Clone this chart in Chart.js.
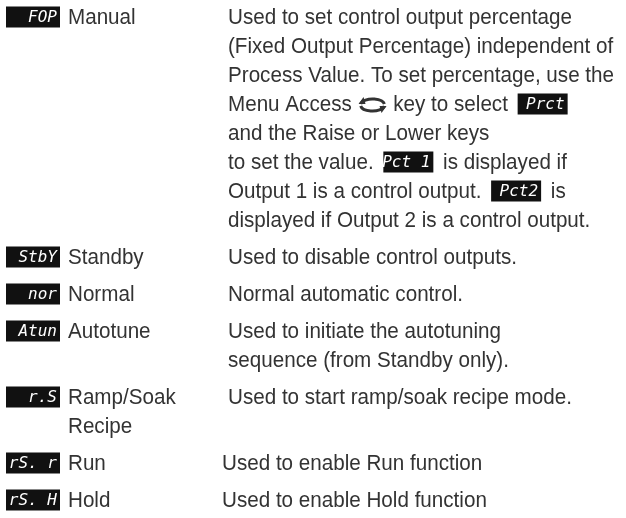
<!DOCTYPE html>
<html>
<head>
<meta charset="utf-8">
<script src="https://cdn.jsdelivr.net/npm/chart.js@4.4.1/dist/chart.umd.min.js"></script>
<style>
  html, body { margin: 0; padding: 0; background: #ffffff; }
  #wrap { width: 626px; height: 518px; }
</style>
</head>
<body>
<div id="wrap"><canvas id="modeChart" width="626" height="518"></canvas></div>
<script>
// Display codes, mode names and descriptions, one entry per mode
const codes = ['FOP', 'StbY', 'nor', 'Atun', 'r.S', 'rS. r', 'rS. H'];
const names = [['Manual'], ['Standby'], ['Normal'], ['Autotune'], ['Ramp/Soak', 'Recipe'], ['Run'], ['Hold']];
// {key} = Menu Access key icon, [xxx] = inline display code
const descriptions = [
  [
    'Used to set control output percentage',
    '(Fixed Output Percentage) independent of',
    'Process Value. To set percentage, use the',
    'Menu Access {key} key to select [Prct]',
    'and the Raise or Lower keys',
    'to set the value. [Pct 1] is displayed if',
    'Output 1 is a control output. [Pct2] is',
    'displayed if Output 2 is a control output.'
  ],
  ['Used to disable control outputs.'],
  ['Normal automatic control.'],
  ['Used to initiate the autotuning', 'sequence (from Standby only).'],
  ['Used to start ramp/soak recipe mode.'],
  ['Used to enable Run function'],
  ['Used to enable Hold function']
];

const textColor = '#333333';
const textFont = '22px "Liberation Sans", Arial, sans-serif';
const codeFont = 'italic 16px "DejaVu Sans Mono", monospace';
const lineStep = 29;
const entryStep = 37;
let squeeze = 0.85;

// y value (in scale units) for every line of every entry
function lineRows() {
  const rows = [];
  let y = 17;
  descriptions.forEach((desc, i) => {
    const n = Math.max(desc.length, names[i].length);
    const r = [];
    for (let k = 0; k < n; k++) r.push(y + k * lineStep);
    rows.push(r);
    y += (n - 1) * lineStep + entryStep;
  });
  return rows;
}

// condensed text: draw with a horizontal squeeze, return drawn width
function drawText(ctx, text, x, cy) {
  ctx.save();
  ctx.font = textFont;
  ctx.fillStyle = textColor;
  ctx.textBaseline = 'middle';
  ctx.textAlign = 'left';
  ctx.translate(x, cy + 1);
  ctx.scale(squeeze, 1);
  ctx.fillText(text, 0, 0);
  const w = ctx.measureText(text).width * squeeze;
  ctx.restore();
  return w;
}

function drawCode(ctx, text, right, cy, w) {
  const h = 21;
  ctx.save();
  ctx.fillStyle = '#111111';
  ctx.fillRect(right - w, cy - h / 2, w, h);
  ctx.fillStyle = '#ffffff';
  ctx.font = codeFont;
  ctx.textAlign = 'right';
  ctx.textBaseline = 'middle';
  ctx.fillText(text, right - 3, cy + 1);
  ctx.restore();
}

function drawKey(ctx, x, cy) {
  // oval loop with two arrow heads
  ctx.save();
  ctx.strokeStyle = textColor;
  ctx.fillStyle = textColor;
  ctx.lineWidth = 3;
  ctx.beginPath();
  ctx.ellipse(x + 13, cy + 1, 12, 6, 0, Math.PI * 1.05, Math.PI * 1.95);
  ctx.stroke();
  ctx.beginPath();
  ctx.ellipse(x + 13, cy + 1, 12, 6, 0, Math.PI * 0.05, Math.PI * 0.95);
  ctx.stroke();
  ctx.beginPath();
  ctx.moveTo(x + 20, cy + 2); ctx.lineTo(x + 27, cy + 2); ctx.lineTo(x + 22, cy + 9);
  ctx.fill();
  ctx.beginPath();
  ctx.moveTo(x - 1, cy); ctx.lineTo(x + 6, cy); ctx.lineTo(x + 4, cy - 7);
  ctx.fill();
  ctx.restore();
}

function drawRich(ctx, line, x, cy) {
  const parts = line.split(/(\{key\}|\[[^\]]+\])/);
  parts.forEach(p => {
    if (!p) return;
    if (p === '{key}') {
      drawKey(ctx, x + 2, cy);
      x += 30;
    } else if (p[0] === '[') {
      drawCode(ctx, p.slice(1, -1), x + 54, cy, 50);
      x += 58;
    } else {
      x += drawText(ctx, p, x, cy);
    }
  });
}

const textPlugin = {
  id: 'modeText',
  afterDraw(chart) {
    const { ctx, scales } = chart;
    const rows = lineRows();
    // fit the third description line to the width it has in the source
    ctx.font = textFont;
    squeeze = 386 / ctx.measureText(descriptions[0][2]).width;
    codes.forEach((code, i) => {
      const cy = scales.y.getPixelForValue(rows[i][0]);
      drawCode(ctx, code, scales.x.getPixelForValue(60), cy, 54);
      names[i].forEach((nm, k) => {
        drawText(ctx, nm, scales.x.getPixelForValue(68), scales.y.getPixelForValue(rows[i][k]));
      });
      const dx = i >= 5 ? 222 : 228;
      descriptions[i].forEach((line, k) => {
        drawRich(ctx, line, scales.x.getPixelForValue(dx), scales.y.getPixelForValue(rows[i][k]));
      });
    });
  }
};

new Chart(document.getElementById('modeChart'), {
  type: 'scatter',
  data: { datasets: [{ data: [], pointRadius: 0 }] },
  options: {
    responsive: false,
    animation: false,
    layout: { padding: 0 },
    plugins: { legend: { display: false }, tooltip: { enabled: false } },
    scales: {
      x: { type: 'linear', min: 0, max: 626, display: false },
      y: { type: 'linear', min: 0, max: 518, reverse: true, display: false }
    }
  },
  plugins: [textPlugin]
});
</script>
</body>
</html>
